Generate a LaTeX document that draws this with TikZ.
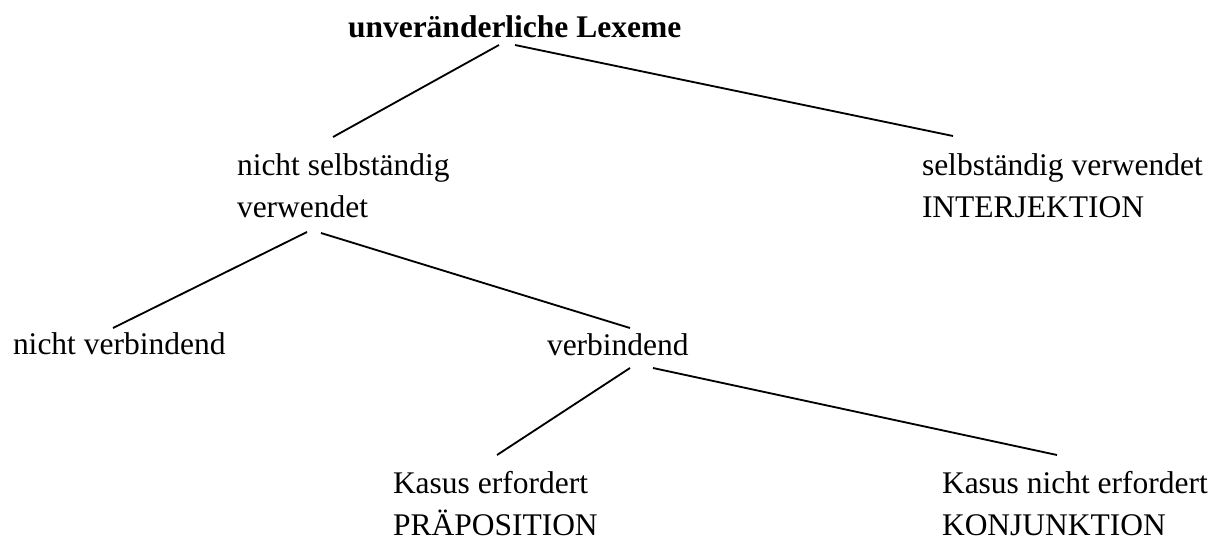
\documentclass[tikz,border=0pt]{standalone}
\usepackage{fontspec}
\setmainfont{Liberation Serif}
\usepackage{tikz}
\usetikzlibrary{positioning, calc}
\tikzstyle{label} = [inner sep=0pt, outer sep=0pt, anchor=base west, align=left, font=\fontsize{12}{16}\selectfont]
\tikzstyle{toplabel} = [label, font=\fontsize{12}{16}\selectfont\bfseries]
\tikzstyle{edge} = [line width=0.7pt]

\begin{document}
\begin{tikzpicture}[x=0.381pt, y=-0.381pt]
                \useasboundingbox (0,0) rectangle (1219,541);
                % two-line labels sit on the baseline of their last line
                \node (root) [toplabel] at (348,37) {unver\"anderliche Lexeme};
                \node (nsv) [label] at (237,217) {nicht selbst\"andig\\verwendet};
                \node (sv) [label] at (922,217) {selbst\"andig verwendet\\INTERJEKTION};
                \node (nv) [label] at (13,354) {nicht verbindend};
                \node (vb) [label] at (547,355) {verbindend};
                \node (ke) [label] at (393,535) {Kasus erfordert\\PR\"APOSITION};
                \node (kne) [label] at (942,535) {Kasus nicht erfordert\\KONJUNKTION};

                \draw [edge] ($(root.base west)+(151,8)$) -- ($(nsv.base west)+(96,-80)$);
                \draw [edge] ($(root.base west)+(167,8)$) -- ($(sv.base west)+(31,-81)$);
                \draw [edge] ($(nsv.base west)+(70,15)$) -- ($(nv.base west)+(100,-26)$);
                \draw [edge] ($(nsv.base west)+(84,16)$) -- ($(vb.base west)+(83,-27)$);
                \draw [edge] ($(vb.base west)+(83,13)$) -- ($(ke.base west)+(104,-80)$);
                \draw [edge] ($(vb.base west)+(106,13)$) -- ($(kne.base west)+(115,-80)$);
            \end{tikzpicture}
\end{document}
